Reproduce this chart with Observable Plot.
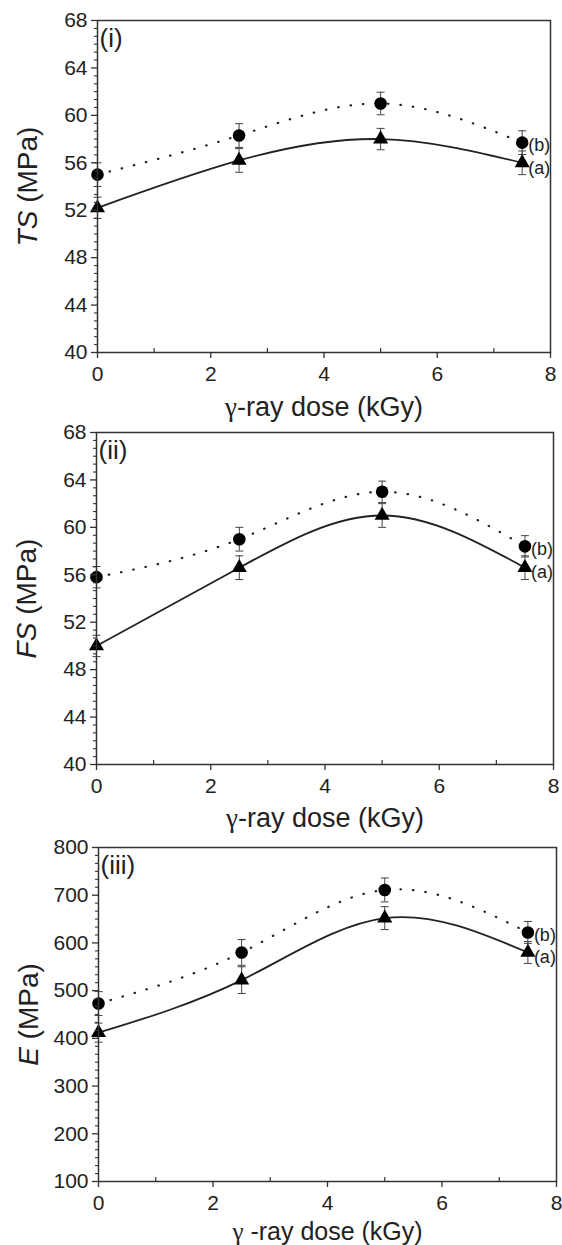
<!DOCTYPE html>
<html>
<head>
<meta charset="utf-8">
<script src="https://cdn.jsdelivr.net/npm/d3@7"></script>
<script src="https://cdn.jsdelivr.net/npm/@observablehq/plot@0.6"></script>
<style>
  html, body { margin: 0; padding: 0; background: #fff; }
  #chart svg { display: block; }
</style>
</head>
<body>
<div id="chart"></div>
<script>
// ---- data ----
const doses = [0, 2.5, 5, 7.5];

// (i) Tensile strength
const tsA = [52.2, 56.2, 58.0, 56.0];
const tsAErr = [0.9, 1.0, 0.9, 1.0];
const tsB = [55.0, 58.3, 61.0, 57.7];
const tsBErr = [1.0, 1.0, 0.95, 1.0];

// (ii) Flexural strength
const fsA = [50.0, 56.6, 61.0, 56.6];
const fsAErr = [0.9, 1.0, 1.0, 1.0];
const fsB = [55.8, 59.0, 63.0, 58.4];
const fsBErr = [0.9, 1.0, 0.9, 0.9];

// (iii) Modulus
const eA = [412, 522, 652, 580];
const eAErr = [20, 28, 24, 23];
const eB = [473, 580, 711, 622];
const eBErr = [25, 27, 25, 23];

const xTicks = [0, 2, 4, 6, 8];
const xMinorTicks = [1, 3, 5, 7];
const yTicksStrength = [40, 44, 48, 52, 56, 60, 64, 68];
const yTicksModulus = [100, 200, 300, 400, 500, 600, 700, 800];
const seriesLabels = ["(a)", "(b)"];

const FONT = "'Liberation Sans', Arial, Helvetica, sans-serif";
const INK = "#222";

const capSymbol = {
  draw(ctx) { ctx.moveTo(-4, 0); ctx.lineTo(4, 0); }
};

function panel(o) {
  const A = doses.map((x, i) => ({x, y: o.a[i], e: o.aErr[i]}));
  const B = doses.map((x, i) => ({x, y: o.b[i], e: o.bErr[i]}));
  const [y0, y1] = o.yDomain;
  const majorStep = o.yTicks[1] - o.yTicks[0];
  const yMinor = d3.range(0, Math.round((y1 - y0) / majorStep * 6) + 1)
    .map(k => y0 + k * majorStep / 6)
    .filter((v, k) => k % 6 !== 0);
  const errMarks = (D) => [
    Plot.ruleX(D, {x: "x", y1: d => d.y - d.e, y2: d => d.y + d.e, stroke: "#444", strokeWidth: 1}),
    Plot.dot(D, {x: "x", y: d => d.y - d.e, symbol: capSymbol, stroke: "#444", strokeWidth: 1, fill: "none"}),
    Plot.dot(D, {x: "x", y: d => d.y + d.e, symbol: capSymbol, stroke: "#444", strokeWidth: 1, fill: "none"})
  ];
  const svg = Plot.plot({
    width: 562,
    height: o.height,
    marginTop: o.mt, marginBottom: o.mb, marginLeft: o.ml, marginRight: o.mr,
    style: {fontFamily: FONT, fontSize: "21px", color: INK, background: "#fff", overflow: "visible"},
    x: {domain: [0, 8]},
    y: {domain: o.yDomain},
    marks: [
      Plot.line(B, {x: "x", y: "y", curve: "natural", stroke: INK, strokeWidth: 2.2, strokeDasharray: "0.5,12", strokeLinecap: "round"}),
      Plot.line(A, {x: "x", y: "y", curve: "natural", stroke: INK, strokeWidth: 1.8}),
      ...errMarks(B),
      ...errMarks(A),
      Plot.dot(B, {x: "x", y: "y", r: 6.3, fill: "#000", stroke: "none"}),
      Plot.dot(A, {x: "x", y: "y", r: 5.6, symbol: "triangle", fill: "#000", stroke: "none"}),
      Plot.text([B[3]], {x: "x", y: "y", text: () => seriesLabels[1], dx: 6, dy: 3, textAnchor: "start", fontSize: 18, fill: INK}),
      Plot.text([A[3]], {x: "x", y: "y", text: () => seriesLabels[0], dx: 6, dy: 5, textAnchor: "start", fontSize: 18, fill: INK}),
      Plot.frame({stroke: "#333", strokeWidth: 1.5}),
      Plot.axisX({ticks: xTicks, tickSize: 6, tickPadding: 8, tickFormat: d => String(d), label: null, stroke: "#333", strokeWidth: 1.3}),
      Plot.axisX({ticks: xMinorTicks, tickSize: -4, tickFormat: () => "", label: null, stroke: "#333", strokeWidth: 1.2}),
      Plot.axisY({ticks: o.yTicks, tickSize: 6, tickPadding: 4, tickFormat: d => String(d), label: null, stroke: "#333", strokeWidth: 1.3}),
      Plot.axisY({ticks: yMinor, tickSize: 3, tickFormat: () => "", label: null, stroke: "#333", strokeWidth: 1.1}),
      Plot.text([o.panelLabel], {frameAnchor: "top-left", dx: 2, dy: 18, lineAnchor: "middle", textAnchor: "start", fontSize: 26, fill: INK}),
      Plot.text([o.xLabel], {frameAnchor: "bottom", dy: o.xLabelDy, lineAnchor: "middle", textAnchor: "middle", fontSize: o.xLabelSize, fill: INK}),
      Plot.text([o.yLabelItalic + " (MPa)"], {frameAnchor: "left", dx: -69, rotate: -90, lineAnchor: "middle", textAnchor: "middle", fontSize: 28, fill: INK})
    ]
  });
  const sel = d3.select(svg).selectAll("text");
  // italicise the quantity symbol in the y title
  sel.filter(function () { return this.textContent === o.yLabelItalic + " (MPa)"; })
    .each(function () {
      const t = d3.select(this);
      t.text(null);
      t.append("tspan").attr("font-style", "italic").text(o.yLabelItalic);
      t.append("tspan").text(" (MPa)");
    });
  // set the Greek gamma in a serif face, as in the original figure
  sel.filter(function () { return this.textContent === o.xLabel; })
    .each(function () {
      const t = d3.select(this);
      t.text(null);
      t.append("tspan").attr("font-family", "'Liberation Serif', 'DejaVu Serif', serif").text(o.xLabel.slice(0, 1));
      t.append("tspan").text(o.xLabel.slice(1));
    });
  return svg;
}

const root = document.getElementById("chart");
root.appendChild(panel({
  a: tsA, aErr: tsAErr, b: tsB, bErr: tsBErr,
  yDomain: [40, 68], yTicks: yTicksStrength,
  yLabelItalic: "TS", panelLabel: "(i)", xLabel: "γ-ray dose (kGy)",
  height: 413, mt: 20, mb: 61, ml: 97, mr: 12, xLabelDy: 55, xLabelSize: 27
}));
root.appendChild(panel({
  a: fsA, aErr: fsAErr, b: fsB, bErr: fsBErr,
  yDomain: [40, 68], yTicks: yTicksStrength,
  yLabelItalic: "FS", panelLabel: "(ii)", xLabel: "γ-ray dose (kGy)",
  height: 413, mt: 19, mb: 62, ml: 96, mr: 9, xLabelDy: 54, xLabelSize: 27
}));
root.appendChild(panel({
  a: eA, aErr: eAErr, b: eB, bErr: eBErr,
  yDomain: [100, 800], yTicks: yTicksModulus,
  yLabelItalic: "E", panelLabel: "(iii)", xLabel: "γ -ray dose (kGy)",
  height: 419, mt: 21, mb: 64, ml: 98, mr: 6, xLabelDy: 50, xLabelSize: 25
}));
</script>
</body>
</html>
